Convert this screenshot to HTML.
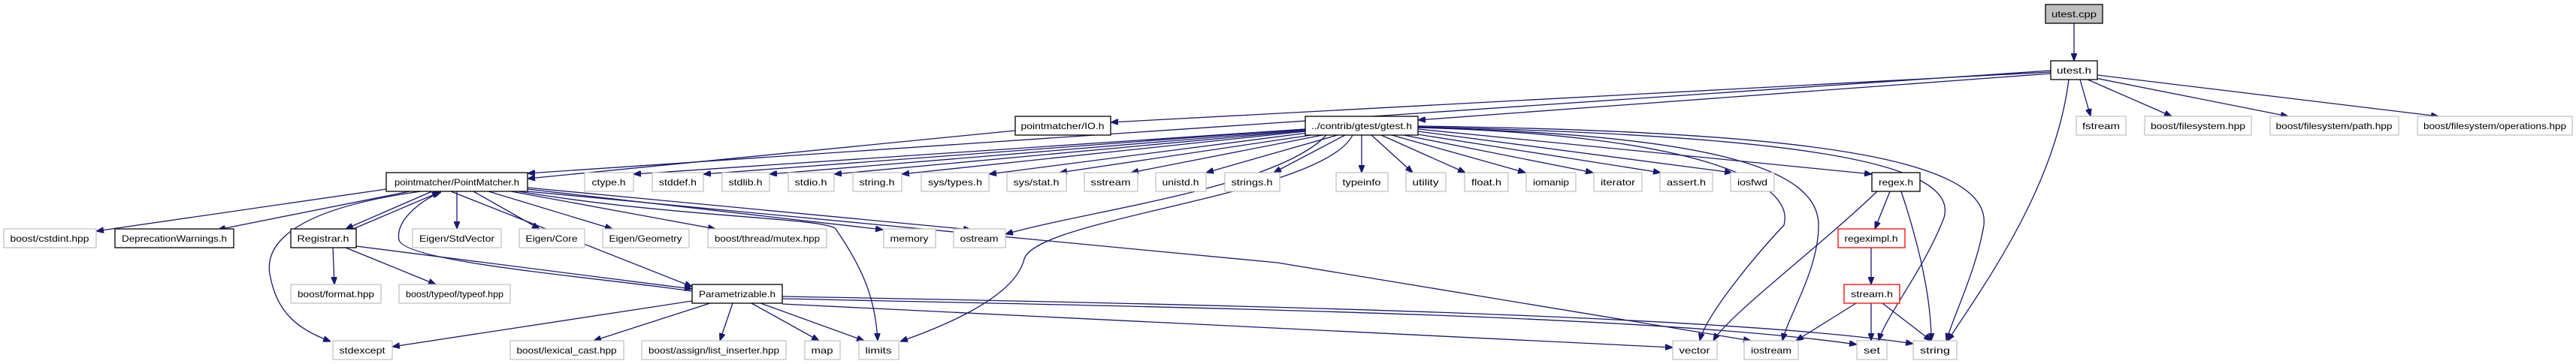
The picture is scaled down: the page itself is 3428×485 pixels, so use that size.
<!DOCTYPE html>
<html><head><meta charset="utf-8"><style>
html,body{margin:0;padding:0;background:#fff;}
svg{display:block;}
text{font-family:"Liberation Sans",Arial,sans-serif;font-size:12px;fill:#000;}
.e{fill:none;stroke:#191970;stroke-width:1.3;marker-end:url(#a);}
.g{fill:#fff;stroke:#bfbfbf;stroke-width:1.2;}
.b{fill:#fff;stroke:#000;stroke-width:1.3;}
.r{fill:#fff;stroke:#ff0000;stroke-width:1.3;}
.c{fill:#bfbfbf;stroke:#000;stroke-width:1.3;}
</style></head><body>
<svg width="3428" height="485" viewBox="0 0 3428 485" xmlns="http://www.w3.org/2000/svg">
<defs><marker id="a" markerWidth="10" markerHeight="8" refX="10" refY="4" orient="auto" markerUnits="userSpaceOnUse"><path d="M0,0 L10,4 L0,8 z" fill="#191970" stroke="#191970"/></marker></defs>
<g>
<path class="e" d="M2760,31 L2760,81"/>
<path class="e" d="M2768,106 L2782,155"/>
<path class="e" d="M2778,106 L2890,155"/>
<path class="e" d="M2788,104 L3045,155"/>
<path class="e" d="M2791,100 L3245,155"/>
<path class="e" d="M2753,106 C2735,250 2640,380 2592,454"/>
<path class="e" d="M2729,98 L1887,160"/>
<path class="e" d="M2729,96 L1478,163"/>
<path class="e" d="M2729,94 L702,231"/>
<path class="e" d="M1351,174 L702,238"/>
<path class="e" d="M1737,172 L843,232"/>
<path class="e" d="M1737,172 L936,232"/>
<path class="e" d="M1737,173 L1024,232"/>
<path class="e" d="M1737,174 L1110,232"/>
<path class="e" d="M1737,175 L1200,232"/>
<path class="e" d="M1740,177 L1316,232"/>
<path class="e" d="M1745,180 L1410,230"/>
<path class="e" d="M1760,180 L1505,230"/>
<path class="e" d="M1780,180 L1605,230"/>
<path class="e" d="M1790,180 L1695,230"/>
<path class="e" d="M1812,180 L1812,230"/>
<path class="e" d="M1825,180 L1880,230"/>
<path class="e" d="M1838,180 L1950,230"/>
<path class="e" d="M1852,180 L2030,230"/>
<path class="e" d="M1868,180 L2120,230"/>
<path class="e" d="M1880,178 L2210,230"/>
<path class="e" d="M1887,175 L2305,230"/>
<path class="e" d="M1887,172 L2491,232"/>
<path class="e" d="M1800,180 C1760,260 1380,290 1363,345 C1350,400 1240,440 1198,455"/>
<path class="e" d="M1765,180 C1700,250 1450,280 1338,312"/>
<path class="e" d="M1887,170 C2250,180 2390,240 2374,300 C2336,340 2270,420 2262,454"/>
<path class="e" d="M1887,170 C2300,180 2420,230 2420,300 C2420,360 2380,420 2372,454"/>
<path class="e" d="M1887,169 C2350,180 2610,210 2587,290 C2560,360 2510,420 2500,454"/>
<path class="e" d="M1887,168 C2400,175 2650,210 2640,300 C2630,360 2600,420 2590,454"/>
<path class="e" d="M2515,255 L2495,305"/>
<path class="e" d="M2498,255 C2420,330 2300,420 2280,454"/>
<path class="e" d="M2530,255 C2555,330 2570,400 2570,454"/>
<path class="e" d="M2490,330 L2490,379"/>
<path class="e" d="M2470,404 L2390,454"/>
<path class="e" d="M2490,404 L2490,454"/>
<path class="e" d="M2505,404 L2570,454"/>
<path class="e" d="M514,252 L128,308"/>
<path class="e" d="M545,255 L290,306"/>
<path class="e" d="M560,255 C380,280 350,330 360,370 C370,420 400,440 440,455"/>
<path class="e" d="M575,255 L460,305"/>
<path class="e" d="M470,305 L585,256"/>
<path class="e" d="M608,255 L608,305"/>
<path class="e" d="M630,255 L718,305"/>
<path class="e" d="M650,255 L815,305"/>
<path class="e" d="M680,255 L952,305"/>
<path class="e" d="M702,252 L1175,306"/>
<path class="e" d="M702,250 L1292,306"/>
<path class="e" d="M690,255 C900,290 1100,290 1112,305 C1150,360 1165,400 1168,454"/>
<path class="e" d="M600,255 L921,382"/>
<path class="e" d="M921,388 C800,370 540,350 531,320 C525,290 570,262 587,256"/>
<path class="e" d="M702,255 L1700,350 L2330,454"/>
<path class="e" d="M474,328 L921,385"/>
<path class="e" d="M443,330 L445,379"/>
<path class="e" d="M460,330 L580,379"/>
<path class="e" d="M921,401 L522,462"/>
<path class="e" d="M945,404 L790,454"/>
<path class="e" d="M975,404 L958,454"/>
<path class="e" d="M1000,404 L1090,454"/>
<path class="e" d="M1012,404 L1150,454"/>
<path class="e" d="M1041,405 L2226,463"/>
<path class="e" d="M1041,398 C1600,410 2200,420 2471,459"/>
<path class="e" d="M1041,395 C1600,405 2300,420 2546,458"/>
</g>
<g id="nodes"></g>
<rect class="c" x="2722" y="6" width="76" height="25"/><text x="2760" y="23" text-anchor="middle" textLength="60" lengthAdjust="spacingAndGlyphs">utest.cpp</text>
<rect class="b" x="2729" y="81" width="62" height="25"/><text x="2760" y="98" text-anchor="middle" textLength="46" lengthAdjust="spacingAndGlyphs">utest.h</text>
<rect class="b" x="1351" y="155" width="127" height="25"/><text x="1414" y="172" text-anchor="middle" textLength="111" lengthAdjust="spacingAndGlyphs">pointmatcher/IO.h</text>
<rect class="b" x="1737" y="155" width="150" height="25"/><text x="1812" y="172" text-anchor="middle" textLength="134" lengthAdjust="spacingAndGlyphs">../contrib/gtest/gtest.h</text>
<rect class="g" x="2763" y="155" width="66" height="25"/><text x="2796" y="172" text-anchor="middle" textLength="50" lengthAdjust="spacingAndGlyphs">fstream</text>
<rect class="g" x="2854" y="155" width="142" height="25"/><text x="2925" y="172" text-anchor="middle" textLength="126" lengthAdjust="spacingAndGlyphs">boost/filesystem.hpp</text>
<rect class="g" x="3021" y="155" width="171" height="25"/><text x="3106" y="172" text-anchor="middle" textLength="155" lengthAdjust="spacingAndGlyphs">boost/filesystem/path.hpp</text>
<rect class="g" x="3217" y="155" width="206" height="25"/><text x="3320" y="172" text-anchor="middle" textLength="190" lengthAdjust="spacingAndGlyphs">boost/filesystem/operations.hpp</text>
<rect class="b" x="514" y="230" width="188" height="25"/><text x="608" y="247" text-anchor="middle" textLength="166" lengthAdjust="spacingAndGlyphs">pointmatcher/PointMatcher.h</text>
<rect class="g" x="778" y="230" width="65" height="25"/><text x="810" y="247" text-anchor="middle" textLength="45" lengthAdjust="spacingAndGlyphs">ctype.h</text>
<rect class="g" x="868" y="230" width="68" height="25"/><text x="902" y="247" text-anchor="middle" textLength="50" lengthAdjust="spacingAndGlyphs">stddef.h</text>
<rect class="g" x="961" y="230" width="63" height="25"/><text x="992" y="247" text-anchor="middle" textLength="45" lengthAdjust="spacingAndGlyphs">stdlib.h</text>
<rect class="g" x="1049" y="230" width="61" height="25"/><text x="1079" y="247" text-anchor="middle" textLength="43" lengthAdjust="spacingAndGlyphs">stdio.h</text>
<rect class="g" x="1135" y="230" width="65" height="25"/><text x="1167" y="247" text-anchor="middle" textLength="47" lengthAdjust="spacingAndGlyphs">string.h</text>
<rect class="g" x="1226" y="230" width="90" height="25"/><text x="1271" y="247" text-anchor="middle" textLength="72" lengthAdjust="spacingAndGlyphs">sys/types.h</text>
<rect class="g" x="1340" y="230" width="79" height="25"/><text x="1379" y="247" text-anchor="middle" textLength="61" lengthAdjust="spacingAndGlyphs">sys/stat.h</text>
<rect class="g" x="1443" y="230" width="71" height="25"/><text x="1478" y="247" text-anchor="middle" textLength="53" lengthAdjust="spacingAndGlyphs">sstream</text>
<rect class="g" x="1538" y="230" width="67" height="25"/><text x="1571" y="247" text-anchor="middle" textLength="49" lengthAdjust="spacingAndGlyphs">unistd.h</text>
<rect class="g" x="1630" y="230" width="73" height="25"/><text x="1666" y="247" text-anchor="middle" textLength="55" lengthAdjust="spacingAndGlyphs">strings.h</text>
<rect class="g" x="1778" y="230" width="69" height="25"/><text x="1812" y="247" text-anchor="middle" textLength="51" lengthAdjust="spacingAndGlyphs">typeinfo</text>
<rect class="g" x="1871" y="230" width="53" height="25"/><text x="1897" y="247" text-anchor="middle" textLength="35" lengthAdjust="spacingAndGlyphs">utility</text>
<rect class="g" x="1949" y="230" width="58" height="25"/><text x="1978" y="247" text-anchor="middle" textLength="40" lengthAdjust="spacingAndGlyphs">float.h</text>
<rect class="g" x="2031" y="230" width="66" height="25"/><text x="2064" y="247" text-anchor="middle" textLength="48" lengthAdjust="spacingAndGlyphs">iomanip</text>
<rect class="g" x="2121" y="230" width="64" height="25"/><text x="2153" y="247" text-anchor="middle" textLength="46" lengthAdjust="spacingAndGlyphs">iterator</text>
<rect class="g" x="2209" y="230" width="70" height="25"/><text x="2244" y="247" text-anchor="middle" textLength="52" lengthAdjust="spacingAndGlyphs">assert.h</text>
<rect class="g" x="2303" y="230" width="58" height="25"/><text x="2332" y="247" text-anchor="middle" textLength="40" lengthAdjust="spacingAndGlyphs">iosfwd</text>
<rect class="b" x="2491" y="230" width="64" height="25"/><text x="2523" y="247" text-anchor="middle" textLength="46" lengthAdjust="spacingAndGlyphs">regex.h</text>
<rect class="g" x="5" y="305" width="123" height="25"/><text x="66" y="322" text-anchor="middle" textLength="105" lengthAdjust="spacingAndGlyphs">boost/cstdint.hpp</text>
<rect class="b" x="153" y="305" width="158" height="25"/><text x="232" y="322" text-anchor="middle" textLength="140" lengthAdjust="spacingAndGlyphs">DeprecationWarnings.h</text>
<rect class="b" x="387" y="305" width="87" height="25"/><text x="430" y="322" text-anchor="middle" textLength="69" lengthAdjust="spacingAndGlyphs">Registrar.h</text>
<rect class="g" x="549" y="305" width="118" height="25"/><text x="608" y="322" text-anchor="middle" textLength="100" lengthAdjust="spacingAndGlyphs">Eigen/StdVector</text>
<rect class="g" x="691" y="305" width="87" height="25"/><text x="734" y="322" text-anchor="middle" textLength="69" lengthAdjust="spacingAndGlyphs">Eigen/Core</text>
<rect class="g" x="802" y="305" width="115" height="25"/><text x="859" y="322" text-anchor="middle" textLength="97" lengthAdjust="spacingAndGlyphs">Eigen/Geometry</text>
<rect class="g" x="942" y="305" width="158" height="25"/><text x="1021" y="322" text-anchor="middle" textLength="140" lengthAdjust="spacingAndGlyphs">boost/thread/mutex.hpp</text>
<rect class="g" x="1176" y="305" width="69" height="25"/><text x="1210" y="322" text-anchor="middle" textLength="51" lengthAdjust="spacingAndGlyphs">memory</text>
<rect class="g" x="1269" y="305" width="69" height="25"/><text x="1303" y="322" text-anchor="middle" textLength="51" lengthAdjust="spacingAndGlyphs">ostream</text>
<rect class="r" x="2446" y="305" width="89" height="25"/><text x="2490" y="322" text-anchor="middle" textLength="71" lengthAdjust="spacingAndGlyphs">regeximpl.h</text>
<rect class="g" x="387" y="379" width="120" height="25"/><text x="447" y="396" text-anchor="middle" textLength="102" lengthAdjust="spacingAndGlyphs">boost/format.hpp</text>
<rect class="g" x="531" y="379" width="148" height="25"/><text x="605" y="396" text-anchor="middle" textLength="130" lengthAdjust="spacingAndGlyphs">boost/typeof/typeof.hpp</text>
<rect class="b" x="921" y="379" width="120" height="25"/><text x="981" y="396" text-anchor="middle" textLength="102" lengthAdjust="spacingAndGlyphs">Parametrizable.h</text>
<rect class="r" x="2454" y="379" width="74" height="25"/><text x="2491" y="396" text-anchor="middle" textLength="56" lengthAdjust="spacingAndGlyphs">stream.h</text>
<rect class="g" x="443" y="454" width="79" height="25"/><text x="482" y="471" text-anchor="middle" textLength="61" lengthAdjust="spacingAndGlyphs">stdexcept</text>
<rect class="g" x="679" y="454" width="151" height="25"/><text x="754" y="471" text-anchor="middle" textLength="133" lengthAdjust="spacingAndGlyphs">boost/lexical_cast.hpp</text>
<rect class="g" x="854" y="454" width="192" height="25"/><text x="950" y="471" text-anchor="middle" textLength="174" lengthAdjust="spacingAndGlyphs">boost/assign/list_inserter.hpp</text>
<rect class="g" x="1071" y="454" width="47" height="25"/><text x="1094" y="471" text-anchor="middle" textLength="29" lengthAdjust="spacingAndGlyphs">map</text>
<rect class="g" x="1143" y="454" width="53" height="25"/><text x="1169" y="471" text-anchor="middle" textLength="35" lengthAdjust="spacingAndGlyphs">limits</text>
<rect class="g" x="2226" y="454" width="59" height="25"/><text x="2255" y="471" text-anchor="middle" textLength="41" lengthAdjust="spacingAndGlyphs">vector</text>
<rect class="g" x="2321" y="454" width="72" height="25"/><text x="2357" y="471" text-anchor="middle" textLength="54" lengthAdjust="spacingAndGlyphs">iostream</text>
<rect class="g" x="2471" y="454" width="40" height="25"/><text x="2491" y="471" text-anchor="middle" textLength="22" lengthAdjust="spacingAndGlyphs">set</text>
<rect class="g" x="2546" y="454" width="58" height="25"/><text x="2575" y="471" text-anchor="middle" textLength="40" lengthAdjust="spacingAndGlyphs">string</text>
</svg>
</body></html>
